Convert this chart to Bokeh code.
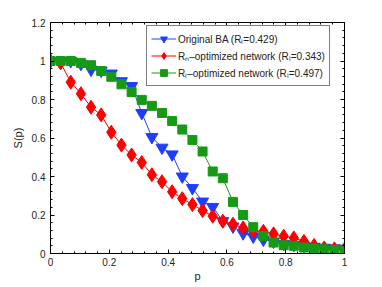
from bokeh.plotting import figure
from bokeh.models import (LinearAxis, FixedTicker, PrintfTickFormatter, Legend, LegendItem,
                          Range1d, CustomLabelingPolicy)
from bokeh.embed import file_html
from bokeh.resources import INLINE

# fraction of removed nodes (30 samples, 0..1)
p_vals = [k / 29 for k in range(30)]

s_original = [1.0, 1.0, 1.0, 0.985, 0.955, 0.95, 0.935, 0.895, 0.87, 0.73,
              0.605, 0.55, 0.515, 0.40, 0.34, 0.27, 0.242, 0.168, 0.14, 0.105,
              0.088, 0.072, 0.062, 0.05, 0.045, 0.04, 0.035, 0.03, 0.027, 0.025]
s_rn_opt = [1.0, 0.99, 0.89, 0.83, 0.76, 0.72, 0.63, 0.563, 0.512, 0.473,
            0.409, 0.373, 0.321, 0.285, 0.254, 0.223, 0.194, 0.168, 0.152, 0.133,
            0.117, 0.115, 0.102, 0.09, 0.081, 0.063, 0.042, 0.029, 0.024, 0.022]
s_rl_opt = [1.0, 1.0, 1.0, 0.99, 0.978, 0.948, 0.918, 0.879, 0.839, 0.798,
            0.767, 0.73, 0.688, 0.644, 0.59, 0.53, 0.426, 0.391, 0.268, 0.2,
            0.137, 0.091, 0.057, 0.043, 0.04, 0.031, 0.026, 0.022, 0.018, 0.018]

labels = ["Original BA (R\u2097=0.429)",
          "R\u2099\u2013optimized network (R\u2097=0.343)",
          "R\u2097\u2013optimized network (R\u2097=0.497)"]

x_ticks = [0, 0.2, 0.4, 0.6, 0.8, 1]
y_ticks = [0, 0.2, 0.4, 0.6, 0.8, 1, 1.2]

FONT = "Liberation Sans"
TXT = "#222222"

p = figure(width=366, height=284, output_backend="svg", toolbar_location=None,
           x_range=Range1d(0, 1), y_range=Range1d(0, 1.2),
           x_axis_label="p", y_axis_label="S(p)",
           min_border_left=50, min_border_right=21, min_border_top=22, min_border_bottom=29)
p.grid.visible = False
p.outline_line_color = "black"
p.background_fill_color = "white"
p.border_fill_color = "white"

x_minor = [i * 0.04 for i in range(26)]
y_minor = [i * 0.04 for i in range(31)]

def style_axis(ax, ticks, minor, show_labels=True):
    ax.ticker = FixedTicker(ticks=ticks, minor_ticks=minor)
    ax.formatter = PrintfTickFormatter(format="%g")
    ax.major_tick_in = 4
    ax.major_tick_out = 0
    ax.minor_tick_in = 2
    ax.minor_tick_out = 0
    ax.axis_line_color = "black"
    ax.major_tick_line_color = "black"
    ax.minor_tick_line_color = "black"
    ax.major_label_text_font = FONT
    ax.major_label_text_font_size = "10px"
    ax.major_label_text_color = TXT
    ax.major_label_standoff = 5
    ax.axis_label_text_font = FONT
    ax.axis_label_text_font_size = "11px"
    ax.axis_label_text_font_style = "normal"
    ax.axis_label_text_color = TXT
    ax.axis_label_standoff = 5
    if not show_labels:
        ax.major_label_policy = CustomLabelingPolicy(
            code="for (const i of Array.from(indices)) { indices.unset(i) }\nreturn indices")

style_axis(p.xaxis[0], x_ticks, x_minor)
style_axis(p.yaxis[0], y_ticks, y_minor)
p.xaxis[0].major_label_standoff = 4
p.xaxis[0].axis_label_standoff = 1
top = LinearAxis()
right = LinearAxis()
style_axis(top, x_ticks, x_minor, show_labels=False)
style_axis(right, y_ticks, y_minor, show_labels=False)
p.add_layout(top, "above")
p.add_layout(right, "right")

BLUE = "#1f3dff"
RED = "#ff0000"
GREEN = "#169a16"

l1 = p.line(p_vals, s_original, color=BLUE, line_width=1)
m1 = p.scatter(p_vals, s_original, marker="inverted_triangle", size=12, color=BLUE)
l2 = p.line(p_vals, s_rn_opt, color=RED, line_width=1)
m2 = p.scatter(p_vals, s_rn_opt, marker="diamond", size=14, color=RED)
l3 = p.line(p_vals, s_rl_opt, color=GREEN, line_width=1)
m3 = p.scatter(p_vals, s_rl_opt, marker="square", size=9, color=GREEN)

legend = Legend(items=[LegendItem(label=labels[0], renderers=[l1, m1]),
                       LegendItem(label=labels[1], renderers=[l2, m2]),
                       LegendItem(label=labels[2], renderers=[l3, m3])],
                location=(96, 167))
legend.margin = 0
legend.padding = 4
legend.spacing = 0
legend.glyph_width = 25
legend.glyph_height = 17
legend.label_height = 17
legend.label_standoff = 2
legend.label_text_font = FONT
legend.label_text_font_size = "10px"
legend.label_text_color = TXT
legend.border_line_color = "black"
legend.border_line_width = 1
legend.background_fill_color = "white"
legend.background_fill_alpha = 1
p.add_layout(legend, "center")

open("out.html", "w").write(file_html(p, INLINE))
